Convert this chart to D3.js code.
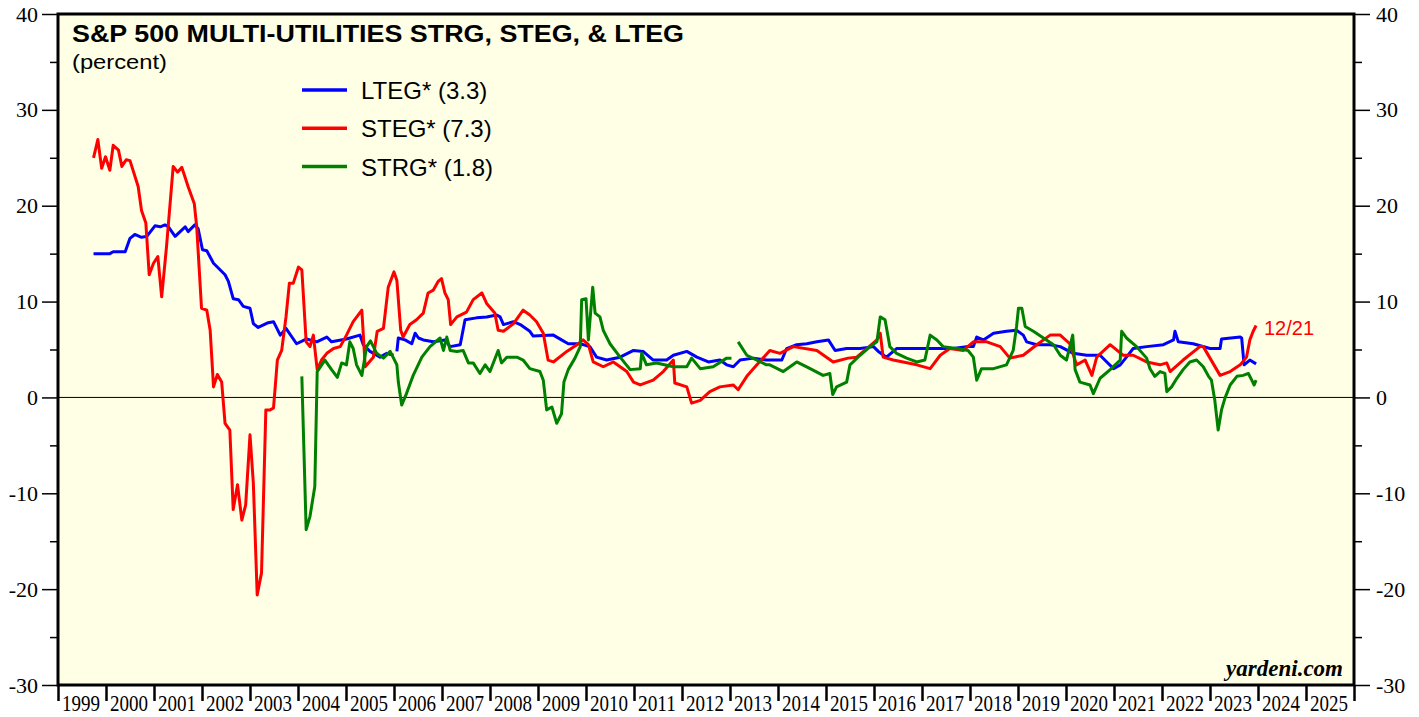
<!DOCTYPE html>
<html>
<head>
<meta charset="utf-8">
<script src="https://cdn.jsdelivr.net/npm/d3@7"></script>
<style>
  body { margin: 0; background: #fff; }
  svg { display: block; }
</style>
</head>
<body>
<svg id="chart" width="1419" height="717"></svg>
<script>
// values, [decimal year, percent]
var lteg = [
  [1999.74,15.0],[2000.08,15.0],[2000.15,15.2],[2000.40,15.2],[2000.50,16.6],[2000.60,17.0],[2000.74,16.7],
  [2000.85,16.8],[2001.02,17.9],[2001.13,17.8],[2001.23,18.0],[2001.30,17.8],[2001.44,16.8],[2001.65,17.8],
  [2001.71,17.3],[2001.85,18.0],[2001.92,17.6],[2002.01,15.4],[2002.10,15.3],[2002.24,14.0],[2002.48,12.8],
  [2002.55,12.1],[2002.65,10.3],[2002.76,10.2],[2002.86,9.5],[2003.00,9.3],[2003.07,7.7],[2003.17,7.3],
  [2003.38,7.8],[2003.49,7.9],[2003.63,6.5],[2003.75,7.2],[2003.97,5.6],[2004.18,6.1],[2004.39,5.8],
  [2004.60,6.3],[2004.70,5.8],[2005.01,6.1],[2005.29,6.5],[2005.36,5.5],[2005.50,4.8],[2005.71,4.2],
  [2005.85,4.6],[2005.99,4.4],[2006.02,null],[2006.06,4.8],[2006.09,6.2],[2006.23,6.0],[2006.37,5.6],
  [2006.44,6.7],[2006.51,6.2],[2006.61,6.0],[2006.82,5.8],[2007.06,6.0],[2007.17,5.3],[2007.38,5.5],
  [2007.48,8.1],[2007.72,8.3],[2007.93,8.4],[2008.14,8.6],[2008.21,8.4],[2008.28,7.6],[2008.49,7.9],
  [2008.63,7.6],[2008.83,6.9],[2008.90,6.4],[2009.32,6.5],[2009.49,6.0],[2009.63,5.6],[2009.88,5.6],
  [2010.08,5.3],[2010.22,4.2],[2010.43,3.9],[2010.71,4.2],[2010.99,4.9],[2011.19,4.8],[2011.40,3.9],
  [2011.68,3.9],[2011.82,4.4],[2012.10,4.8],[2012.31,4.2],[2012.55,3.7],[2012.79,3.9],[2012.93,3.4],
  [2013.07,3.2],[2013.21,3.9],[2013.49,4.1],[2013.76,3.9],[2014.08,3.9],[2014.18,5.1],[2014.39,5.5],
  [2014.60,5.6],[2014.81,5.8],[2015.05,6.0],[2015.19,4.9],[2015.43,5.1],[2015.71,5.1],[2015.99,5.3],
  [2016.09,4.8],[2016.26,4.2],[2016.47,5.1],[2017.10,5.1],[2017.65,5.1],[2017.93,5.3],[2018.07,5.3],
  [2018.14,6.3],[2018.28,6.0],[2018.49,6.7],[2018.76,6.9],[2018.97,7.0],[2019.11,6.5],[2019.18,5.8],
  [2019.39,5.5],[2019.67,5.5],[2019.88,5.3],[2020.15,4.6],[2020.43,4.4],[2020.71,4.4],[2020.85,3.7],
  [2020.99,3.0],[2021.13,3.4],[2021.26,4.2],[2021.40,5.1],[2021.68,5.3],[2022.03,5.5],[2022.24,6.0],
  [2022.27,6.9],[2022.34,5.8],[2022.65,5.6],[2023.00,5.1],[2023.21,5.1],[2023.24,6.1],[2023.63,6.3],
  [2023.66,6.2],[2023.71,3.4],[2023.83,3.9],[2023.96,3.5]
];

var steg = [
  [1999.74,25.0],[1999.83,26.9],[1999.91,23.9],[1999.99,25.1],[2000.08,23.7],[2000.15,26.3],[2000.26,25.8],
  [2000.33,24.1],[2000.42,24.8],[2000.50,24.7],[2000.67,22.0],[2000.74,19.5],[2000.83,18.2],[2000.90,12.8],
  [2000.99,14.0],[2001.08,14.7],[2001.16,10.5],[2001.26,15.7],[2001.40,24.1],[2001.49,23.5],[2001.58,24.0],
  [2001.71,22.0],[2001.84,20.2],[2001.89,17.8],[2001.99,9.3],[2002.10,9.1],[2002.17,7.0],[2002.24,1.1],
  [2002.32,2.4],[2002.41,1.6],[2002.48,-2.7],[2002.58,-3.4],[2002.65,-11.7],[2002.74,-9.1],[2002.83,-12.8],
  [2002.91,-11.2],[2003.00,-3.9],[2003.07,-9.0],[2003.15,-20.6],[2003.24,-18.3],[2003.33,-1.3],[2003.42,-1.3],
  [2003.49,-1.1],[2003.57,3.9],[2003.66,4.9],[2003.75,8.4],[2003.82,11.9],[2003.90,11.9],[2004.01,13.6],
  [2004.08,13.3],[2004.17,5.8],[2004.25,5.3],[2004.32,6.5],[2004.40,2.9],[2004.49,3.9],[2004.60,4.6],
  [2004.74,5.1],[2004.88,5.3],[2005.01,6.5],[2005.15,7.9],[2005.33,9.1],[2005.40,3.2],[2005.57,4.2],
  [2005.65,6.9],[2005.78,7.2],[2005.88,11.5],[2006.00,13.1],[2006.06,12.2],[2006.14,7.0],[2006.19,6.3],
  [2006.33,7.6],[2006.47,8.1],[2006.61,8.8],[2006.71,10.9],[2006.82,11.2],[2006.92,12.1],[2006.99,12.4],
  [2007.06,10.9],[2007.13,10.2],[2007.18,7.6],[2007.31,8.4],[2007.51,8.9],[2007.65,10.2],[2007.83,10.9],
  [2007.93,9.8],[2008.10,8.8],[2008.17,7.0],[2008.28,6.9],[2008.49,7.7],[2008.69,9.1],[2008.83,8.6],
  [2008.97,7.9],[2009.11,6.7],[2009.21,3.9],[2009.32,3.7],[2009.60,4.8],[2009.81,5.5],[2009.94,6.0],
  [2010.05,5.5],[2010.15,3.7],[2010.36,3.2],[2010.57,3.7],[2010.85,2.7],[2010.99,1.6],[2011.13,1.3],
  [2011.40,1.8],[2011.61,2.7],[2011.82,3.9],[2011.85,1.5],[2012.10,1.1],[2012.20,-0.6],[2012.38,-0.3],
  [2012.58,0.6],[2012.79,1.1],[2013.07,1.3],[2013.17,0.8],[2013.35,2.2],[2013.56,3.4],[2013.83,4.9],
  [2014.04,4.6],[2014.32,5.3],[2014.81,4.9],[2015.15,3.7],[2015.46,4.1],[2015.64,4.2],[2015.85,5.1],
  [2016.06,6.0],[2016.13,6.7],[2016.19,4.2],[2016.40,3.9],[2016.89,3.4],[2017.17,3.0],[2017.38,4.4],
  [2017.58,5.1],[2017.86,4.9],[2018.07,5.8],[2018.35,5.8],[2018.63,5.3],[2018.83,4.1],[2019.11,4.4],
  [2019.39,5.5],[2019.67,6.5],[2019.88,6.5],[2020.08,5.6],[2020.22,3.4],[2020.40,3.9],[2020.54,2.3],
  [2020.64,4.2],[2020.92,5.5],[2021.19,4.4],[2021.40,4.4],[2021.68,3.7],[2021.96,3.4],[2022.10,3.6],
  [2022.17,2.7],[2022.44,3.9],[2022.79,5.3],[2022.86,5.3],[2023.21,2.3],[2023.42,2.7],[2023.63,3.4],
  [2023.76,4.2],[2023.83,6.0],[2023.90,6.9],[2023.96,7.5]
];

var strg = [
  [2004.08,2.2],[2004.17,-13.8],[2004.25,-12.4],[2004.35,-9.3],[2004.40,2.7],[2004.56,3.9],[2004.70,2.9],
  [2004.82,2.1],[2004.91,3.6],[2005.01,3.4],[2005.08,5.8],[2005.15,5.1],[2005.22,3.4],[2005.33,2.3],
  [2005.43,5.3],[2005.51,5.9],[2005.64,4.6],[2005.78,4.1],[2005.92,4.8],[2006.06,3.4],[2006.09,1.6],
  [2006.16,-0.8],[2006.26,0.4],[2006.40,2.3],[2006.58,4.2],[2006.75,5.3],[2006.96,6.2],[2007.03,4.9],
  [2007.10,6.3],[2007.17,4.9],[2007.31,4.8],[2007.44,4.9],[2007.55,3.6],[2007.65,3.6],[2007.79,2.5],
  [2007.90,3.4],[2008.00,2.7],[2008.17,4.9],[2008.24,3.6],[2008.35,4.2],[2008.56,4.2],[2008.69,3.9],
  [2008.83,3.0],[2009.04,2.7],[2009.11,1.8],[2009.18,-1.3],[2009.29,-1.0],[2009.39,-2.7],[2009.49,-1.7],
  [2009.54,1.6],[2009.63,2.9],[2009.77,4.1],[2009.88,5.3],[2009.91,10.2],[2010.00,10.3],[2010.05,6.0],
  [2010.14,11.5],[2010.19,8.8],[2010.29,8.4],[2010.36,7.0],[2010.50,5.6],[2010.71,4.2],[2010.92,2.9],
  [2011.13,3.0],[2011.16,4.6],[2011.26,3.4],[2011.47,3.6],[2011.82,3.2],[2012.10,3.2],[2012.20,4.1],
  [2012.38,3.0],[2012.65,3.2],[2012.93,4.1],[2013.03,4.1],[2013.10,null],[2013.17,5.8],[2013.35,4.4],
  [2013.56,3.9],[2013.76,3.4],[2013.83,3.4],[2014.11,2.7],[2014.39,3.7],[2014.67,3.0],[2014.94,2.3],
  [2015.08,2.5],[2015.14,0.3],[2015.22,1.1],[2015.43,1.6],[2015.50,3.4],[2015.71,4.4],[2015.92,5.3],
  [2016.06,5.8],[2016.13,8.4],[2016.23,8.1],[2016.33,5.3],[2016.47,4.6],[2016.68,4.1],[2016.89,3.7],
  [2017.06,3.9],[2017.17,6.5],[2017.31,6.0],[2017.44,5.3],[2017.72,5.1],[2017.96,4.9],[2018.07,4.2],
  [2018.14,1.8],[2018.24,3.0],[2018.49,3.0],[2018.76,3.4],[2018.90,4.9],[2018.97,7.4],[2019.01,9.3],
  [2019.08,9.3],[2019.15,7.4],[2019.32,6.9],[2019.53,6.2],[2019.74,5.5],[2019.88,4.4],[2020.01,3.9],
  [2020.14,6.5],[2020.19,2.9],[2020.29,1.6],[2020.50,1.3],[2020.57,0.4],[2020.71,2.0],[2020.92,2.9],
  [2021.13,3.9],[2021.16,6.9],[2021.26,6.2],[2021.47,5.3],[2021.68,4.1],[2021.75,3.0],[2021.85,2.2],
  [2021.96,2.7],[2022.06,2.5],[2022.10,0.6],[2022.20,1.1],[2022.31,2.0],[2022.44,2.9],[2022.58,3.7],
  [2022.72,3.9],[2022.86,3.2],[2022.97,2.2],[2023.03,1.8],[2023.10,-0.3],[2023.17,-3.4],[2023.24,-1.3],
  [2023.31,-0.1],[2023.42,1.3],[2023.56,2.2],[2023.69,2.3],[2023.80,2.5],[2023.87,1.8],[2023.92,1.3],
  [2023.96,1.8]
];

var seriesNames = ['LTEG* (3.3)', 'STEG* (7.3)', 'STRG* (1.8)'];
var seriesColors = ['#0000ff', '#ff0000', '#008000'];
var years = d3.range(1999, 2026);
var yMajor = [-30, -20, -10, 0, 10, 20, 30, 40];
var yMinor = [-25, -15, -5, 5, 15, 25, 35];

var plotLeft = 58, plotRight = 1354, plotTop = 14, plotBottom = 685;

var svg = d3.select('#chart');

var x = d3.scaleLinear().domain([1999, 2026]).range([plotLeft, plotRight]);
var y = d3.scaleLinear().domain([-30, 40]).range([plotBottom, plotTop]);

// plot background
svg.append('rect')
    .attr('x', plotLeft).attr('y', plotTop)
    .attr('width', plotRight - plotLeft).attr('height', plotBottom - plotTop)
    .attr('fill', '#ffffe5');

// zero line
svg.append('line')
    .attr('x1', plotLeft).attr('x2', plotRight)
    .attr('y1', y(0)).attr('y2', y(0))
    .attr('stroke', '#000').attr('stroke-width', 1);

var serif = '"Liberation Serif", "Times New Roman", serif';
var sans = '"Liberation Sans", Arial, sans-serif';
var plainNum = function(d){ return String(d); };   // hyphen minus like the original

// left axis
var gl = svg.append('g').attr('transform', 'translate(' + plotLeft + ',0)');
gl.call(d3.axisLeft(y).tickValues(yMajor).tickSize(16).tickPadding(4).tickFormat(plainNum));
gl.append('g').call(d3.axisLeft(y).tickValues(yMinor).tickSize(8).tickFormat(''));

// right axis
var gr = svg.append('g').attr('transform', 'translate(' + plotRight + ',0)');
gr.call(d3.axisRight(y).tickValues(yMajor).tickSize(16).tickPadding(6).tickFormat(plainNum));
gr.append('g').call(d3.axisRight(y).tickValues(yMinor).tickSize(8).tickFormat(''));

svg.selectAll('.domain').remove();
svg.selectAll('.tick line').attr('stroke', '#000').attr('stroke-width', 1.5);
svg.selectAll('.tick text')
    .attr('fill', '#000')
    .style('font-family', serif)
    .style('font-size', '22px');

// bottom axis ticks
var gb = svg.append('g').attr('transform', 'translate(0,' + plotBottom + ')');
gb.call(d3.axisBottom(x).tickValues(d3.range(1999, 2027)).tickSize(16).tickFormat(''));
gb.select('.domain').remove();
gb.selectAll('.tick line').attr('stroke', '#000').attr('stroke-width', 2.5);

gb.selectAll('text.yr')
    .data(years)
    .enter()
    .append('text')
    .attr('class', 'yr')
    .attr('x', function(d){ return x(d) + 4; })
    .attr('y', 26)
    .attr('text-anchor', 'start')
    .attr('textLength', 38)
    .attr('lengthAdjust', 'spacingAndGlyphs')
    .style('font-family', serif)
    .style('font-size', '23px')
    .attr('fill', '#000')
    .text(function(d){ return d; });

// lines
var line = d3.line()
    .defined(function(d){ return d[1] != null; })
    .x(function(d){ return x(d[0]); })
    .y(function(d){ return y(d[1]); });

var plot = svg.append('g');
[lteg, steg, strg].forEach(function(s, i){
    plot.append('path')
        .datum(s)
        .attr('d', line)
        .attr('fill', 'none')
        .attr('stroke', seriesColors[i])
        .attr('stroke-width', 3)
        .attr('stroke-linejoin', 'round');
});

// frame
svg.append('rect')
    .attr('x', plotLeft).attr('y', plotTop)
    .attr('width', plotRight - plotLeft).attr('height', plotBottom - plotTop)
    .attr('fill', 'none')
    .attr('stroke', '#000')
    .attr('stroke-width', 3);

// titles
svg.append('text')
    .attr('x', 72).attr('y', 42)
    .attr('textLength', 612)
    .attr('lengthAdjust', 'spacingAndGlyphs')
    .style('font-family', sans).style('font-weight', 'bold').style('font-size', '24px')
    .text('S&P 500 MULTI-UTILITIES STRG, STEG, & LTEG');

svg.append('text')
    .attr('x', 72).attr('y', 69)
    .attr('textLength', 95)
    .attr('lengthAdjust', 'spacingAndGlyphs')
    .style('font-family', sans).style('font-size', '21px')
    .text('(percent)');

// legend
var legend = svg.append('g');
seriesNames.forEach(function(n, i){
    var ly = 90 + i * 38.3;
    legend.append('line')
        .attr('x1', 302).attr('x2', 347)
        .attr('y1', ly).attr('y2', ly)
        .attr('stroke', seriesColors[i]).attr('stroke-width', 3.5);
    legend.append('text')
        .attr('x', 361).attr('y', ly + 9)
        .style('font-family', sans).style('font-size', '24px')
        .text(n);
});

svg.append('text')
    .attr('x', 1264).attr('y', 335)
    .attr('fill', '#ff0000')
    .style('font-family', sans).style('font-size', '20px')
    .text('12/21');

svg.append('text')
    .attr('x', 1343).attr('y', 676)
    .attr('text-anchor', 'end')
    .style('font-family', serif).style('font-weight', 'bold').style('font-style', 'italic')
    .style('font-size', '23px')
    .text('yardeni.com');
</script>
</body>
</html>
